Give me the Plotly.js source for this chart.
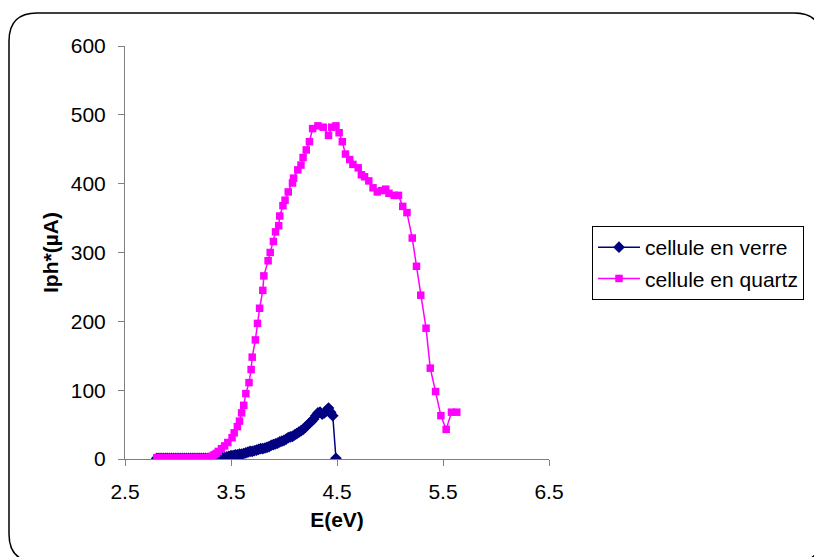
<!DOCTYPE html>
<html>
<head>
<meta charset="utf-8">
<script src="https://cdn.plot.ly/plotly-3.0.1.min.js"></script>
<style>html,body{margin:0;padding:0;background:#fff;}#chart{width:814px;height:557px;}</style>
</head>
<body>
<div id="chart"></div>
<script>
// cellule en verre (navy, diamonds)
const verreE = [2.80,2.82,2.84,2.86,2.88,2.90,2.92,2.94,2.96,2.98,3.00,3.02,3.04,3.06,3.08,3.10,3.12,3.14,3.16,3.18,3.20,3.22,3.24,3.26,3.28,3.30,3.32,3.34,3.36,3.38,
  3.40,3.42,3.44,3.46,3.48,3.50,3.52,3.54,3.56,3.58,3.60,3.62,3.64,3.66,3.68,3.70,3.72,3.74,3.76,3.78,3.80,3.82,3.84,3.86,3.88,3.90,3.92,3.94,3.96,3.98,
  4.00,4.02,4.04,4.06,4.08,4.10,4.12,4.14,4.16,4.18,4.20,4.22,4.24,4.26,4.28,4.30,4.32,4.34,4.36,4.38,4.40,4.42,4.44,4.46,4.49];
const verreI = [1,1,1,1,1,1,1,1,1,1,1,1,1,1,1,1,1,1,1,1,1,1,1,1,1,1,1,1,1,1,
  1,2,2,3,4,5,5,6,6,7,7,8,9,10,11,11,12,13,14,15,15,16,17,18,20,21,22,23,25,26,
  27,29,31,32,33,35,37,39,41,43,46,49,52,55,58,63,67,68,65,67,70,74,68,63,1];

// cellule en quartz (magenta, squares)
const quartzE = [2.80,2.82,2.84,2.86,2.88,2.90,2.92,2.94,2.96,2.98,3.00,3.02,3.04,3.06,3.08,3.10,3.12,3.14,3.16,3.18,3.20,3.22,3.24,3.26,3.28,3.30,
  3.32,3.34,3.36,3.38,3.41,3.44,3.47,3.51,3.53,3.56,3.58,3.60,3.62,3.64,3.67,3.69,3.70,3.73,3.75,3.77,3.80,3.81,3.85,3.87,3.90,3.92,3.95,3.96,3.99,
  4.01,4.04,4.08,4.09,4.13,4.16,4.18,4.21,4.24,4.27,4.32,4.37,4.42,4.45,4.49,4.52,4.55,4.58,4.62,4.65,4.70,4.73,4.76,4.80,4.84,4.88,4.92,4.96,4.99,
  5.04,5.08,5.12,5.16,5.21,5.25,5.29,5.34,5.38,5.43,5.48,5.53,5.58,5.63];
const quartzI = [2,2,2,2,2,2,2,2,2,2,2,2,2,2,2,2,2,2,2,2,2,2,2,2,2,3,
  4,6,8,11,15,19,24,31,38,47,55,67,78,95,111,130,148,173,197,219,245,266,288,300,316,330,339,353,368,
  376,388,401,408,420,427,438,449,461,480,484,482,470,482,484,474,461,443,435,428,423,413,410,404,394,388,390,392,386,
  383,383,367,358,321,280,238,190,132,98,63,43,68,68];

const xTicks = [2.5,3.5,4.5,5.5,6.5];
const yTicks = [0,100,200,300,400,500,600];

// plot area in pixels (for frame shape conversion)
const PL = 125, PR = 549, PT = 46, PB = 459;
const px = v => (v - PL) / (PR - PL);
const py = v => (PB - v) / (PB - PT);
function framePath(x0, y0, x1, y1, r) {
  return 'M' + px(x0) + ',' + py(y0 + r) +
    ' Q' + px(x0) + ',' + py(y0) + ' ' + px(x0 + r) + ',' + py(y0) +
    ' L' + px(x1 - r) + ',' + py(y0) +
    ' Q' + px(x1) + ',' + py(y0) + ' ' + px(x1) + ',' + py(y0 + r) +
    ' L' + px(x1) + ',' + py(y1 - r) +
    ' Q' + px(x1) + ',' + py(y1) + ' ' + px(x1 - r) + ',' + py(y1) +
    ' L' + px(x0 + r) + ',' + py(y1) +
    ' Q' + px(x0) + ',' + py(y1) + ' ' + px(x0) + ',' + py(y1 - r) + ' Z';
}

const FONT = 'Liberation Sans, Arial, sans-serif';

const traces = [
  {x: verreE, y: verreI, name: 'cellule en verre', type: 'scatter', mode: 'lines+markers',
   legendgroup: 'a',
   line: {color: '#000080', width: 1.5},
   marker: {symbol: 'diamond', size: 9, color: '#000080'}},
  {x: quartzE, y: quartzI, name: 'cellule en quartz', type: 'scatter', mode: 'lines+markers',
   legendgroup: 'b',
   line: {color: '#FF00FF', width: 1.5},
   marker: {symbol: 'square', size: 7.5, color: '#FF00FF'}}
];

const layout = {
  width: 814, height: 557,
  margin: {l: PL, r: 814 - PR, t: PT, b: 557 - PB, autoexpand: false},
  paper_bgcolor: '#fff', plot_bgcolor: '#fff',
  font: {family: FONT, size: 21, color: '#000'},
  showlegend: true,
  xaxis: {
    range: [2.5, 6.5], tickvals: xTicks, ticktext: xTicks.map(v => v.toFixed(1)),
    showgrid: false, zeroline: false, showline: true, linecolor: '#808080', linewidth: 1,
    ticks: 'outside', ticklen: 6, tickcolor: '#808080', ticklabelstandoff: 8,
    tickfont: {family: FONT, size: 21},
    title: {text: '<b>E(eV)</b>', font: {family: FONT, size: 21}, standoff: 10}
  },
  yaxis: {
    range: [0, 600], tickvals: yTicks,
    showgrid: false, zeroline: false, showline: true, linecolor: '#808080', linewidth: 1,
    ticks: 'outside', ticklen: 6, tickcolor: '#808080', ticklabelstandoff: 8,
    tickfont: {family: FONT, size: 21},
    title: {text: '<b>Iph*(µA)</b>', font: {family: FONT, size: 21}, standoff: 6}
  },
  legend: {
    x: px(592), y: py(226), xanchor: 'left', yanchor: 'top',
    bordercolor: '#000', borderwidth: 1, bgcolor: '#fff',
    font: {family: FONT, size: 21}, itemwidth: 42,
    traceorder: 'grouped', tracegroupgap: 1
  },
  shapes: [
    {type: 'path', xref: 'paper', yref: 'paper', path: framePath(9, 13, 822, 562, 28),
     line: {color: '#000', width: 1.5}, fillcolor: 'rgba(0,0,0,0)', layer: 'below'}
  ]
};

Plotly.newPlot('chart', traces, layout, {displayModeBar: false, staticPlot: true});
</script>
</body>
</html>
